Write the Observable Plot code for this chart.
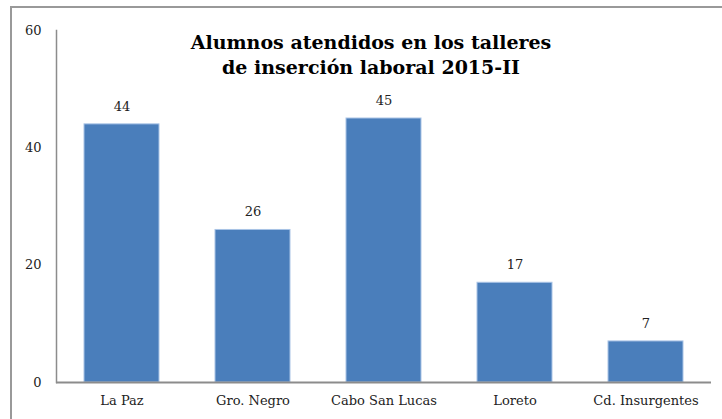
<!DOCTYPE html>
<html><head><meta charset="utf-8">
<script src="https://cdn.jsdelivr.net/npm/d3@7"></script>
<script src="https://cdn.jsdelivr.net/npm/@observablehq/plot@0.6"></script>
<style>
html,body{margin:0;padding:0;background:#fff;}
#wrap{position:relative;width:722px;height:419px;overflow:hidden;}
#border{position:absolute;left:10px;top:6px;width:800px;height:500px;border-top:2px solid #999;border-left:2px solid #999;box-sizing:border-box;}
#chart{position:absolute;left:0;top:0;}
#chart svg, #chart svg text {font-family: "DejaVu Serif", serif;}
</style></head>
<body><div id="wrap"><div id="border"></div><div id="chart"></div></div>
<script>
const categories = ["La Paz", "Gro. Negro", "Cabo San Lucas", "Loreto", "Cd. Insurgentes"];
const values = [44, 26, 45, 17, 7];
const yTicks = [0, 20, 40, 60];
const titleLines = ["Alumnos atendidos en los talleres", "de inserción laboral 2015-II"];

const data = categories.map((c, i) => ({cat: c, val: values[i]}));

const chart = Plot.plot({
  width: 722, height: 419,
  marginLeft: 56, marginRight: 11, marginTop: 30, marginBottom: 37,
  style: {fontSize: "13px", color: "#222", background: "transparent"},
  x: {domain: categories, paddingInner: 0.43, paddingOuter: 0.215, label: null},
  y: {domain: [0, 60], ticks: yTicks, label: null},
  marks: [
    Plot.barY(data, {x: "cat", y: "val", fill: "#4a7ebb", stroke: "#a9c4e6", strokeWidth: 1}),
    Plot.text(data, {x: "cat", y: "val", text: d => String(d.val), dy: -18, fontSize: 13, fill: "#222"}),
    Plot.axisY({ticks: yTicks, tickSize: 0, tickPadding: 15, fontSize: 13}),
    Plot.axisX({tickSize: 0, tickPadding: 13, fontSize: 13}),
    Plot.frame({anchor: "left", stroke: "#8c8c8c", strokeWidth: 1.5}),
    Plot.ruleY([0], {stroke: "#8c8c8c", strokeWidth: 2}),
    Plot.text([titleLines.join("\n")], {frameAnchor: "top", dx: -13, dy: 1, lineHeight: 1.3, fontSize: 19, fontWeight: "bold", fill: "#000", lineAnchor: "top"})
  ]
});
document.getElementById("chart").appendChild(chart);
</script></body></html>
